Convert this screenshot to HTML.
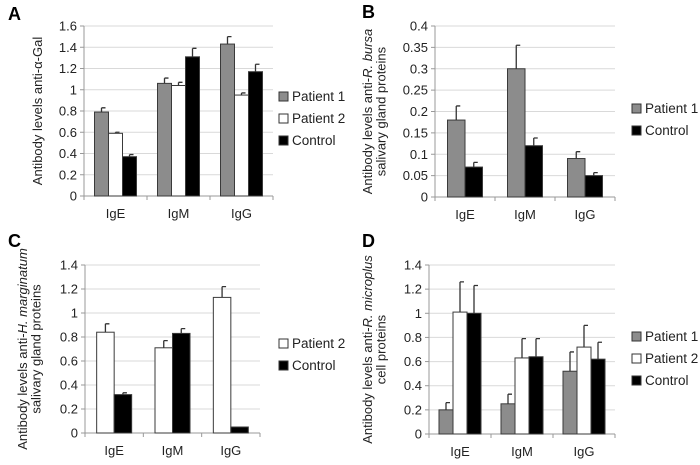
<!DOCTYPE html>
<html><head><meta charset="utf-8"><style>
html,body{margin:0;padding:0;background:#fff;}
svg{display:block;font-family:"Liberation Sans",sans-serif;}
</style></head><body>
<svg id="fig" width="700" height="465" viewBox="0 0 700 465"></svg>
<script>
const categories = ["IgE","IgM","IgG"];
// Panel A
const aP1 = [0.79,1.06,1.43], aP1Err = [0.04,0.05,0.07];
const aP2 = [0.59,1.04,0.95], aP2Err = [0.01,0.03,0.02];
const aC  = [0.37,1.31,1.17], aCErr  = [0.02,0.08,0.07];
const aTicks = ["0","0.2","0.4","0.6","0.8","1","1.2","1.4","1.6"];
// Panel B
const bP1 = [0.18,0.30,0.09], bP1Err = [0.033,0.055,0.016];
const bC  = [0.07,0.12,0.05], bCErr  = [0.011,0.018,0.007];
const bTicks = ["0","0.05","0.1","0.15","0.2","0.25","0.3","0.35","0.4"];
// Panel C
const cP2 = [0.84,0.71,1.13], cP2Err = [0.07,0.06,0.09];
const cC  = [0.32,0.83,0.05], cCErr  = [0.015,0.04,0];
const cTicks = ["0","0.2","0.4","0.6","0.8","1","1.2","1.4"];
// Panel D
const dP1 = [0.20,0.25,0.52], dP1Err = [0.06,0.08,0.16];
const dP2 = [1.01,0.63,0.72], dP2Err = [0.25,0.16,0.18];
const dC  = [1.00,0.64,0.62], dCErr  = [0.23,0.15,0.14];
const dTicks = ["0","0.2","0.4","0.6","0.8","1","1.2","1.4"];

const NS="http://www.w3.org/2000/svg";
const svg=document.getElementById('fig');
function mk(tag,attrs,parent){const e=document.createElementNS(NS,tag);for(const k in attrs)e.setAttribute(k,attrs[k]);(parent||svg).appendChild(e);return e;}
const FILL={p1:"#8c8c8c",p2:"#ffffff",c:"#000000"};
const NAME={p1:"patient-1",p2:"patient-2",c:"control"};
const LABEL={p1:"Patient 1",p2:"Patient 2",c:"Control"};

function panel(o){
  const g=mk('g',{});
  
  
  const yMax=parseFloat(o.ticks[o.ticks.length-1]);
  const y=v=>o.y0-(v/yMax)*(o.y0-o.yTop);
  const gw=(o.x1-o.x0)/categories.length;
  o.ticks.forEach(t=>{
    const v=parseFloat(t), yy=y(v);
    if(v>0){
      const l=mk('line',{x1:o.x0,x2:o.x1,y1:yy,y2:yy,stroke:"#d9d9d9","stroke-width":1},g);
      
      
    }
    mk('line',{x1:o.x0-4,x2:o.x0,y1:yy,y2:yy,stroke:"#999"},g);
    const tl=mk('text',{x:o.x0-7,y:yy+4.5,"text-anchor":"end","font-size":13,fill:"#222"},g);
    
    
    tl.textContent=t;
  });
  const ax=mk('line',{x1:o.x0,x2:o.x0,y1:o.yTop,y2:o.y0,stroke:"#999"},g);
  
  
  const xa=mk('line',{x1:o.x0,x2:o.x1,y1:o.y0,y2:o.y0,stroke:"#999"},g);
  
  
  for(let i=0;i<=categories.length;i++){const xx=o.x0+gw*i;mk('line',{x1:xx,x2:xx,y1:o.y0,y2:o.y0+4,stroke:"#999"},g);}
  const n=o.series.length, totalW=o.bw*n;
  categories.forEach((cat,i)=>{
    const gx=o.x0+gw*i+(gw-totalW)/2;
    o.series.forEach((s,j)=>{
      const v=s.vals[i], e=s.err[i];
      const bx=gx+j*o.bw, by=y(v);
      const r=mk('rect',{x:bx,y:by,width:o.bw,height:o.y0-by,fill:FILL[s.k],stroke:"#3a3a3a","stroke-width":1},g);
      
      
      if(e>0){
        const cx=bx+o.bw/2, ey=y(v+e);
        const eb=mk('path',{d:`M${cx},${by}V${ey}M${cx},${ey}H${cx+4}`,stroke:"#333","stroke-width":1.3,fill:"none"},g);
        
        
      }
    });
    const cl=mk('text',{x:o.x0+gw*(i+0.5),y:o.y0+22,"text-anchor":"middle","font-size":13,fill:"#222"},g);
    
    
    cl.textContent=cat;
  });
  o.series.forEach((s,j)=>{
    const ly=o.legY+j*22;
    const sq=mk('rect',{x:o.legX,y:ly-9,width:9,height:9,fill:FILL[s.k],stroke:"#333"},g);
    
    
    const lt=mk('text',{x:o.legX+13,y:ly,"font-size":13.5,fill:"#222"},g);
    
    
    lt.textContent=LABEL[s.k];
  });
  const pl=mk('text',{x:o.labX,y:o.labY,"font-size":18,"font-weight":"bold",fill:"#000"},g);
  
  
  pl.textContent=o.id;
  const tcy=(o.yTop+o.y0)/2;
  o.title.forEach((line,k)=>{
    const tx=o.titleX+k*13.5;
    const t=mk('text',{x:tx,y:tcy,"text-anchor":"middle","font-size":13,fill:"#222",transform:`rotate(-90 ${tx} ${tcy})`},g);
    
    
    line.forEach(seg=>{const ts=mk('tspan',seg[1]?{"font-style":"italic"}:{},t);ts.textContent=seg[0];});
  });
}

panel({id:"A",x0:84,x1:273,y0:196,yTop:26,ticks:aTicks,bw:14,legX:279,legY:101,labX:8,labY:20,titleX:42,
  title:[[["Antibody levels anti-α-Gal",0]]],
  series:[{k:"p1",vals:aP1,err:aP1Err},{k:"p2",vals:aP2,err:aP2Err},{k:"c",vals:aC,err:aCErr}]});
panel({id:"B",x0:435,x1:615,y0:197,yTop:26,ticks:bTicks,bw:17.5,legX:632,legY:113,labX:362,labY:18,titleX:372,
  title:[[["Antibody levels anti-",0],["R. bursa",1]],[["salivary gland proteins",0]]],
  series:[{k:"p1",vals:bP1,err:bP1Err},{k:"c",vals:bC,err:bCErr}]});
panel({id:"C",x0:85,x1:260,y0:433,yTop:265,ticks:cTicks,bw:17.5,legX:279,legY:348,labX:8,labY:247,titleX:27,
  title:[[["Antibody levels anti-",0],["H. marginatum",1]],[["salivary gland proteins",0]]],
  series:[{k:"p2",vals:cP2,err:cP2Err},{k:"c",vals:cC,err:cCErr}]});
panel({id:"D",x0:429,x1:615,y0:434,yTop:265,ticks:dTicks,bw:14,legX:632,legY:341,labX:362,labY:247,titleX:372,
  title:[[["Antibody levels anti-",0],["R. microplus",1]],[["cell proteins",0]]],
  series:[{k:"p1",vals:dP1,err:dP1Err},{k:"p2",vals:dP2,err:dP2Err},{k:"c",vals:dC,err:dCErr}]});
</script>
</body></html>
